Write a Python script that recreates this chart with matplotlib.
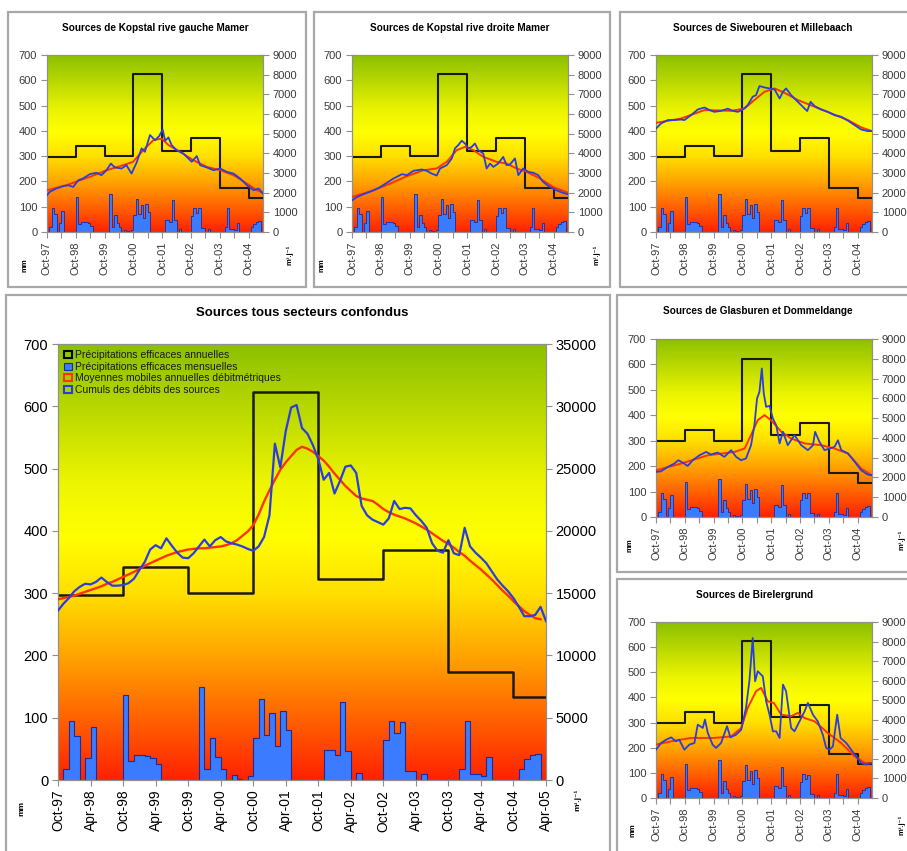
import numpy as np
import matplotlib
matplotlib.use('Agg')
import matplotlib.pyplot as plt
from matplotlib.colors import LinearSegmentedColormap
from matplotlib.patches import Rectangle, Patch

plt.rcParams['font.family'] = ['Liberation Sans', 'DejaVu Sans']

W, H = 907, 851

# ------------------------------------------------------------------ data
main_tick_labels = ['Oct-97', 'Apr-98', 'Oct-98', 'Apr-99', 'Oct-99', 'Apr-00',
                    'Oct-00', 'Apr-01', 'Oct-01', 'Apr-02', 'Oct-02', 'Apr-03',
                    'Oct-03', 'Apr-04', 'Oct-04', 'Apr-05']
small_tick_labels = ['Oct-97', 'Oct-98', 'Oct-99', 'Oct-00', 'Oct-01',
                     'Oct-02', 'Oct-03', 'Oct-04']

# annual effective precipitation (mm), hydrological years starting in October
annual_start = [0, 12, 24, 36, 48, 60, 72, 84]
annual_precip = [297, 342, 300, 623, 322, 370, 174, 134]

# monthly effective precipitation (mm), Oct-97 .. Mar-05
monthly_precip = [0, 18, 95, 70, 0, 35, 85, 0, 0, 0, 0, 0,
                  137, 30, 40, 40, 38, 36, 25, 0, 0, 0, 0, 0,
                  0, 0, 150, 18, 67, 37, 18, 0, 8, 2, 0, 7,
                  68, 130, 72, 108, 55, 110, 80, 0, 0, 0, 0, 0,
                  0, 48, 48, 40, 125, 47, 0, 12, 0, 0, 0, 0,
                  65, 95, 75, 93, 15, 15, 0, 10, 0, 0, 0, 0,
                  0, 0, 18, 95, 10, 10, 7, 37, 0, 0, 0, 0,
                  0, 18, 33, 40, 42, 0]

# main chart (m3/d), monthly
main_blue = [13600, 14150, 14600, 15150, 15500, 15750, 15700, 15900, 16250, 15900,
             15600, 15600, 15650, 15800, 16150, 16850, 17500, 18500, 18850, 18600,
             19400, 18800, 18250, 17850, 17800, 18200, 18750, 19300, 18750, 19250,
             19500, 19150, 19000, 18900, 18750, 18550, 18400, 18750, 19500, 21250,
             27000, 25100, 28000, 29900, 30100, 28250, 27800, 26900, 25750, 24100,
             24650, 23000, 24000, 25150, 25250, 24650, 22000, 21250, 20900, 20700,
             20500, 21000, 22400, 21750, 21850, 21800, 21250, 20800, 20250, 19000,
             18400, 18250, 19250, 18200, 18050, 20250, 18750, 18250, 17850, 17400,
             16750, 16100, 15600, 15150, 14600, 13900, 13150, 13150, 13250, 13900,
             12750]
main_red = [14500, 14600, 14700, 14800, 14950, 15100, 15250, 15400, 15550, 15750,
            15900, 16100, 16300, 16500, 16700, 16950, 17200, 17400, 17600, 17800,
            18000, 18150, 18300, 18400, 18500, 18550, 18600, 18600, 18650, 18700,
            18750, 18850, 19000, 19250, 19600, 19950, 20450, 21300, 22350, 23250,
            24100, 24900, 25500, 26000, 26500, 26750, 26600, 26350, 26000, 25650,
            25150, 24600, 24100, 23600, 23200, 22800, 22600, 22500, 22400, 22100,
            21750, 21500, 21300, 21150, 21000, 20800, 20600, 20350, 20100, 19800,
            19500, 19200, 18950, 18650, 18300, 18000, 17600, 17250, 16900, 16500,
            16100, 15650, 15200, 14800, 14350, 13950, 13550, 13250, 13000, 12900]

# Kopstal rive gauche Mamer (m3/d)
kg_blue_m = [0, 1.1, 3.9, 6.7, 8.8, 10.9, 13.0, 15.0, 17.8, 20.6, 22.7, 24.8, 26.6, 28.3,
             31.1, 33.1, 35.2, 37.3, 39.4, 40.8, 42.9, 45.0, 46.7, 48.2, 49.2, 50.6,
             51.9, 54.0, 56.8, 60.3, 62.4, 63.8, 66.6, 69.4, 72.1, 74.9, 77.7, 80.5,
             83.3, 86.1, 88.2, 90.0]
kg_blue_v = [1870, 2040, 2210, 2330, 2380, 2290, 2630, 2720, 2940, 3010, 2890, 3140, 3480,
             3280, 3230, 3400, 2970, 3520, 4250, 4080, 4930, 4670, 4870, 5210, 4640, 4810,
             4420, 4160, 3990, 3570, 3860, 3400, 3280, 3140, 3230, 3060, 2970, 2720, 2380,
             2120, 2210, 1950]
kg_red_m = [0, 8.1, 17.8, 24.8, 31.8, 35.9, 40.1, 44.3, 47.8, 50.6, 55.4, 61.0, 66.6,
            72.1, 77.7, 83.3, 87.5, 90]
kg_red_v = [2120, 2380, 2800, 3140, 3400, 3570, 4160, 4670, 4750, 4420, 4080, 3650, 3310,
            3140, 2890, 2460, 2120, 1990]

# Kopstal rive droite Mamer (m3/d)
kd_blue_m = [0, 2.1, 4.8, 9.0, 11.8, 14.5, 17.3, 20.8, 22.9, 25.6, 29.1, 31.2, 33.2, 35.3,
             36.7, 39.5, 41.6, 42.9, 44.3, 45.7, 47.1, 48.5, 49.9, 51.2, 52.6, 54.7, 56.1,
             57.5, 58.9, 60.9, 63.0, 64.4, 65.8, 67.9, 69.3, 71.3, 73.4, 75.5, 77.6, 79.6,
             82.4, 85.2, 87.9, 90]
kd_blue_v = [1610, 1780, 1920, 2120, 2290, 2500, 2720, 2940, 2890, 3110, 3180, 3110, 2970,
             2870, 3230, 3400, 3740, 4250, 4420, 4640, 4500, 4250, 4330, 4500, 4160, 3990,
             3230, 3480, 3310, 3480, 3820, 3400, 3430, 3740, 2890, 3230, 3060, 3010, 2890,
             2550, 2290, 2120, 1990, 1920]
kd_red_m = [0, 9.0, 15.9, 22.9, 29.8, 35.3, 39.5, 43.6, 47.1, 50.6, 54.7, 60.2, 64.4,
            68.6, 72.7, 78.3, 83.8, 90]
kd_red_v = [1780, 2120, 2460, 2840, 3140, 3230, 3570, 4160, 4330, 4160, 3820, 3570, 3480,
            3230, 3060, 2720, 2290, 1990]

# Siwebouren et Millebaach (m3/d)
sm_blue_m = [0, 2.1, 4.9, 7.6, 10.4, 11.8, 14.6, 17.4, 20.2, 22.3, 24.3, 27.1, 29.9, 32.0,
             34.1, 36.2, 38.2, 40.3, 41.7, 43.1, 45.2, 47.3, 49.4, 51.5, 52.9, 54.2, 56.3,
             59.1, 61.9, 63.0, 64.4, 66.1, 68.8, 71.6, 74.4, 77.2, 80.0, 82.8, 85.5, 88.3, 90]
sm_blue_v = [5260, 5520, 5690, 5690, 5720, 5690, 5940, 6230, 6330, 6200, 6110, 6160, 6270,
             6160, 6110, 6230, 6450, 6880, 6960, 7420, 7350, 7300, 7250, 6790, 7130, 7300,
             6960, 6620, 6280, 6150, 6620, 6400, 6230, 6110, 5940, 5860, 5660, 5430, 5210,
             5130, 5130]
sm_red_m = [0, 10.4, 20.2, 31.3, 36.9, 41.0, 45.2, 49.4, 53.5, 59.1, 66.1, 73.0, 80.0, 85.5, 90]
sm_red_v = [5550, 5770, 6200, 6160, 6280, 6710, 7130, 7300, 7080, 6710, 6370, 6030, 5690,
            5320, 5130]

# Glasburen et Dommeldange (m3/d)
gd_blue_m = [0, 2.1, 4.9, 7.6, 9.3, 11.1, 13.2, 15.3, 18.1, 20.9, 22.9, 25.7, 28.5, 31.3,
             33.4, 35.5, 37.5, 39.6, 41.0, 42.1, 43.1, 44.1, 44.9, 45.9, 47.3, 48.7, 50.1,
             51.5, 52.9, 54.9, 57.7, 60.5, 63.3, 65.4, 66.3, 68.1, 70.2, 72.3, 74.4, 75.8,
             77.2, 80.0, 82.8, 85.5, 88.3, 90]
gd_blue_v = [2280, 2310, 2530, 2700, 2870, 2750, 2580, 2870, 3120, 3290, 3160, 3260, 3040,
             3380, 3040, 2870, 2960, 3630, 4640, 5990, 6330, 7510, 6250, 5570, 5620, 4980,
             4640, 3720, 4310, 3630, 4140, 3630, 3380, 3630, 4310, 3800, 3380, 3460, 3550,
             3880, 3380, 3210, 2790, 2360, 2140, 2110]
gd_red_m = [0, 10.4, 21.6, 32.7, 36.9, 39.6, 42.4, 45.2, 47.9, 52.2, 56.3, 61.9, 68.8,
            74.4, 80.0, 85.5, 90]
gd_red_v = [2360, 2700, 3120, 3290, 3460, 4140, 4900, 5150, 4900, 4310, 3970, 3720, 3630,
            3460, 3210, 2450, 2110]

# Birelergrund (m3/d)
bg_blue_m = [0, 2.1, 4.2, 6.3, 8.3, 9.7, 11.8, 13.9, 16.0, 17.4, 19.5, 20.4, 21.6, 23.6,
             25.0, 27.1, 29.6, 31.0, 33.4, 35.5, 37.5, 38.9, 40.3, 41.3, 42.4, 44.5, 45.9,
             47.3, 48.7, 50.1, 51.5, 52.9, 54.2, 56.3, 57.7, 59.8, 61.9, 63.3, 65.4, 67.4,
             69.5, 70.9, 72.3, 73.7, 75.5, 76.9, 79.3, 82.8, 85.5, 87.6, 90]
bg_blue_v = [2470, 2810, 2980, 3100, 2900, 2980, 2470, 2730, 2810, 3750, 3580, 4010, 3320,
             2730, 2560, 2810, 3670, 3100, 3240, 3490, 4600, 5970, 8180, 5970, 6480, 6220,
             4940, 4260, 3410, 3410, 3070, 5800, 5460, 3580, 3410, 3920, 4430, 4860, 4260,
             3920, 3240, 2560, 2470, 2640, 4260, 3070, 2810, 2220, 1790, 1710, 1790]
bg_red_m = [0, 6.3, 14.6, 24.3, 31.3, 35.5, 38.2, 41.7, 43.8, 46.6, 49.1, 52.2, 56.3,
            59.1, 61.9, 66.1, 71.6, 77.2, 82.8, 87.0, 90]
bg_red_v = [2730, 2900, 3070, 3070, 3150, 3580, 4600, 5460, 5630, 4940, 4860, 4260, 4180,
            4350, 4090, 3920, 3320, 2810, 2130, 1790, 1790]

# ------------------------------------------------------------------ style
grad_cmap = LinearSegmentedColormap.from_list('grad', [
    (0.00, '#ff2200'), (0.14, '#ff6200'), (0.28, '#ffa200'),
    (0.43, '#ffe000'), (0.56, '#ffff00'), (0.68, '#eef500'), (1.00, '#8cc000')])
BAR_FACE = '#3a7bff'
BAR_EDGE = '#1c2c99'
STEP_C = '#1a1a0a'
RED_C = '#ff3300'
BLUE_C = '#2a3ee0'
SPINE_C = '#909090'

fig = plt.figure(figsize=(W / 100, H / 100), dpi=100)
fig.patch.set_facecolor('white')


def frame(x0, y0, x1, y1):
    r = Rectangle((x0 / W, 1 - y1 / H), (x1 - x0) / W, (y1 - y0) / H,
                  transform=fig.transFigure, facecolor='white',
                  edgecolor='#a8a8a8', lw=1.6, zorder=0)
    fig.add_artist(r)


def make_axes(l, t, r, b):
    return fig.add_axes([l / W, 1 - b / H, (r - l) / W, (b - t) / H])


def draw_panel(ax, ymax_right, blue_m, blue_v, red_m, red_v, big):
    grad = np.linspace(0, 1, 256).reshape(-1, 1)
    ax.imshow(grad, extent=[0, 90, 0, 700], aspect='auto', cmap=grad_cmap,
              origin='lower', zorder=0, interpolation='bilinear')
    edges = np.arange(len(monthly_precip) + 1)
    vals = np.r_[monthly_precip, monthly_precip[-1]]
    ax.fill_between(edges, vals, step='post', color=BAR_FACE, lw=0, zorder=2)
    ax.step(edges, vals, where='post', color=BAR_EDGE, lw=0.8 if big else 0.6, zorder=2.1)
    sx = annual_start + [90]
    sy = annual_precip + [annual_precip[-1]]
    ax.step(sx, sy, where='post', color=STEP_C, lw=1.8 if big else 1.5, zorder=3)
    ax.set_xlim(0, 90)
    ax.set_ylim(0, 700)
    ax.set_yticks(range(0, 701, 100))
    ax2 = ax.twinx()
    ax2.plot(red_m, red_v, color=RED_C, lw=1.7 if big else 1.4, zorder=4)
    ax2.plot(blue_m, blue_v, color=BLUE_C, lw=1.6 if big else 1.3, zorder=5)
    ax2.set_ylim(0, ymax_right)
    ax2.set_yticks(np.arange(0, ymax_right + 1, ymax_right / (7 if big else 9)))
    for a in (ax, ax2):
        for s in a.spines.values():
            s.set_color(SPINE_C)
            s.set_linewidth(0.8)
    fs_y = 10.5 if big else 8
    fs_x = 10 if big else 8
    lc = 'black' if big else '#3a3a3a'
    ax.tick_params(axis='y', direction='out', length=4, width=0.8, color=SPINE_C,
                   labelsize=fs_y, labelcolor=lc, pad=3)
    ax2.tick_params(axis='y', direction='out', length=4, width=0.8, color=SPINE_C,
                    labelsize=fs_y, labelcolor=lc, pad=3)
    ax.tick_params(axis='x', direction='out', length=4, width=0.8, color=SPINE_C,
                   labelsize=fs_x, labelcolor=lc, pad=3)
    if big:
        ax.set_xticks(range(0, 91, 6))
        ax.set_xticklabels(main_tick_labels, rotation=90)
    else:
        ax.set_xticks(range(0, 85, 6))
        labs = []
        for i in range(0, 85, 6):
            labs.append(small_tick_labels[i // 12] if i % 12 == 0 else '')
        ax.set_xticklabels(labs, rotation=90)
    return ax2


def unit_labels(mmxy, m3xy, fs):
    if mmxy:
        fig.text(mmxy[0] / W, 1 - mmxy[1] / H, 'mm', rotation=90, fontsize=fs,
                 fontweight='bold', ha='center', va='center')
    if m3xy:
        fig.text(m3xy[0] / W, 1 - m3xy[1] / H, 'm³.j⁻¹', rotation=90, fontsize=fs,
                 fontweight='bold', ha='center', va='center')


# frames
frame(8, 12, 306, 287)
frame(314, 12, 610, 287)
frame(620, 12, 912, 287)
frame(6, 295, 610, 856)
frame(617, 295, 912, 572)
frame(617, 579, 912, 856)

# top-left
ax = make_axes(47, 55, 263, 232)
draw_panel(ax, 9000, kg_blue_m, kg_blue_v, kg_red_m, kg_red_v, False)
fig.text(155 / W, 1 - 28 / H, 'Sources de Kopstal rive gauche Mamer', fontsize=7.2,
         fontweight='bold', ha='center', va='center')
unit_labels((25, 265), (290, 255), 5.5)

# top-middle
ax = make_axes(352, 55, 568, 232)
draw_panel(ax, 9000, kd_blue_m, kd_blue_v, kd_red_m, kd_red_v, False)
fig.text(460 / W, 1 - 28 / H, 'Sources de Kopstal rive droite Mamer', fontsize=7.2,
         fontweight='bold', ha='center', va='center')
unit_labels((322, 265), (597, 255), 5.5)

# top-right
ax = make_axes(656, 55, 872, 232)
draw_panel(ax, 9000, sm_blue_m, sm_blue_v, sm_red_m, sm_red_v, False)
fig.text(763 / W, 1 - 28 / H, 'Sources de Siwebouren et Millebaach', fontsize=7.2,
         fontweight='bold', ha='center', va='center')

# main
ax = make_axes(58, 344, 546, 780)
ax2 = draw_panel(ax, 35000, list(range(len(main_blue))), main_blue,
                 list(range(len(main_red))), main_red, True)
fig.text(302 / W, 1 - 313 / H, 'Sources tous secteurs confondus', fontsize=9.5,
         fontweight='bold', ha='center', va='center')
unit_labels((22, 808), (578, 800), 6)
handles = [Patch(facecolor='none', edgecolor='black', lw=1.5),
           Patch(facecolor=BAR_FACE, edgecolor=BAR_EDGE, lw=0.8),
           Patch(facecolor='none', edgecolor=RED_C, lw=1.5),
           Patch(facecolor='none', edgecolor=BLUE_C, lw=1.5)]
labels = ['Précipitations efficaces annuelles', 'Précipitations efficaces mensuelles',
          'Moyennes mobiles annuelles débitmétriques', 'Cumuls des débits des sources']
leg = ax2.legend(handles, labels, loc='upper left', bbox_to_anchor=(0.0, 1.0),
                 frameon=False, fontsize=7.5, handlelength=0.7, handleheight=0.7,
                 handletextpad=0.3, labelspacing=0.15, borderaxespad=0.4,
                 borderpad=0.2)
for t in leg.get_texts():
    t.set_color('#1a1a1a')

# middle-right
ax = make_axes(656, 339, 872, 517)
draw_panel(ax, 9000, gd_blue_m, gd_blue_v, gd_red_m, gd_red_v, False)
fig.text(758 / W, 1 - 311 / H, 'Sources de Glasburen et Dommeldange', fontsize=7.2,
         fontweight='bold', ha='center', va='center')
unit_labels((630, 545), (902, 540), 5.5)

# bottom-right
ax = make_axes(656, 622, 872, 798)
draw_panel(ax, 9000, bg_blue_m, bg_blue_v, bg_red_m, bg_red_v, False)
fig.text(755 / W, 1 - 595 / H, 'Sources de Birelergrund', fontsize=7.2,
         fontweight='bold', ha='center', va='center')
unit_labels((633, 830), (902, 825), 5.5)

fig.savefig('out.png', dpi=100, facecolor='white')
